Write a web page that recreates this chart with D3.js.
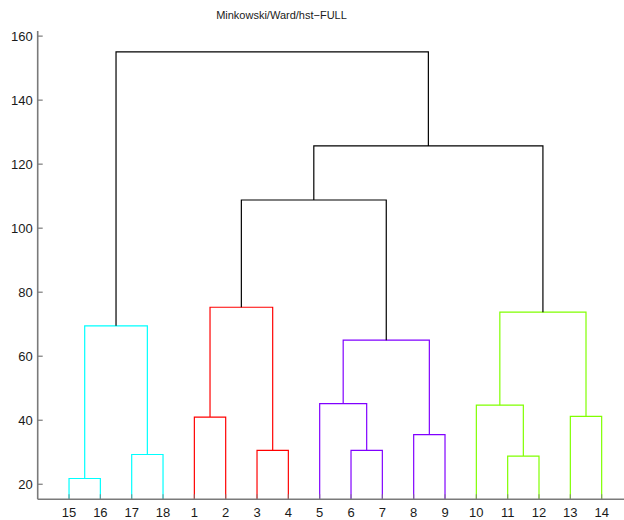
<!DOCTYPE html>
<html>
<head>
<meta charset="utf-8">
<script src="https://cdn.jsdelivr.net/npm/d3@7/dist/d3.min.js"></script>
<style>
  html, body { margin: 0; padding: 0; background: #fff; }
  svg { display: block; }
  text { font-family: "Liberation Sans", Arial, Helvetica, sans-serif; fill: #1a1a1a; }
</style>
</head>
<body>
<svg id="chart" width="624" height="520"></svg>
<script>
// Leaf order along the x axis (observation numbers)
const leafOrder = [15, 16, 17, 18, 1, 2, 3, 4, 5, 6, 7, 8, 9, 10, 11, 12, 13, 14];

// Linkage: cluster 18+k joins linkA[k-1] and linkB[k-1] at linkHeight[k-1]
const linkA = [15, 11, 17, 3, 6, 8, 1, 13, 10, 5, 28, 19, 27, 25, 32, 33, 30];
const linkB = [16, 12, 18, 4, 7, 9, 2, 14, 20, 23, 24, 21, 26, 22, 29, 31, 34];
const linkHeight = [21.8, 28.8, 29.3, 30.6, 30.6, 35.5, 41.0, 41.2, 44.7, 45.2,
                    65.0, 69.5, 73.75, 75.3, 108.8, 125.7, 155.1];

// Colours for clusters below the colour threshold, left to right
const groupColors = ["#00ffff", "#ff0000", "#8000ff", "#80ff00"];
const aboveColor = "#000000";

const yTicks = [20, 40, 60, 80, 100, 120, 140, 160];
const yLimits = [15.3, 161.6];
const title = "Minkowski/Ward/hst\u2212FULL";

const svg = d3.select("#chart");
const nLeaves = leafOrder.length;

const x = d3.scaleLinear().domain([0, nLeaves + 1]).range([37.7, 633]);
const y = d3.scaleLinear().domain(yLimits).range([499.3, 31]);

// Node table: leaves then clusters
const nodes = {};
leafOrder.forEach((leaf, i) => {
  nodes[leaf] = { x: i + 1, h: yLimits[0], leaf: true };
});
linkA.forEach((a, k) => {
  const id = nLeaves + 1 + k;
  nodes[id] = { x: (nodes[a].x + nodes[linkB[k]].x) / 2, h: linkHeight[k], a, b: linkB[k], leaf: false };
});

const threshold = 0.7 * d3.max(linkHeight);

// Find group roots (highest clusters below threshold) and assign colours left to right
const groupRoots = [];
linkA.forEach((a, k) => {
  const id = nLeaves + 1 + k;
  if (linkHeight[k] < threshold) {
    // parent above threshold?
    const parentIdx = linkA.findIndex((pa, j) => pa === id || linkB[j] === id);
    if (parentIdx < 0 || linkHeight[parentIdx] >= threshold) groupRoots.push(id);
  }
});
groupRoots.sort((p, q) => nodes[p].x - nodes[q].x);
function paint(id, color) {
  const n = nodes[id];
  if (n.leaf) return;
  n.color = color;
  paint(n.a, color);
  paint(n.b, color);
}
groupRoots.forEach((id, i) => paint(id, groupColors[i % groupColors.length]));

// Clip region for the plotting area
svg.append("defs").append("clipPath").attr("id", "plotClip")
  .append("rect").attr("x", x(0)).attr("y", y(yLimits[1]))
  .attr("width", x(nLeaves + 1) - x(0)).attr("height", y(yLimits[0]) - y(yLimits[1]));

const links = svg.append("g").attr("clip-path", "url(#plotClip)");
linkA.forEach((a, k) => {
  const id = nLeaves + 1 + k;
  const n = nodes[id];
  const A = nodes[a], B = nodes[linkB[k]];
  const color = n.color || aboveColor;
  const p = d3.path();
  p.moveTo(x(A.x), y(A.h));
  p.lineTo(x(A.x), y(n.h));
  p.lineTo(x(B.x), y(n.h));
  p.lineTo(x(B.x), y(B.h));
  links.append("path").attr("d", p.toString())
    .attr("fill", "none").attr("stroke", color).attr("stroke-width", 1.2);
});

// Axes
const axisColor = "#7a7a7a";
const ax = svg.append("g");
ax.append("line").attr("x1", x(0)).attr("x2", x(0))
  .attr("y1", y(yLimits[0])).attr("y2", y(yLimits[1]))
  .attr("stroke", axisColor).attr("stroke-width", 1.6);
ax.append("line").attr("x1", x(0)).attr("x2", x(nLeaves + 1))
  .attr("y1", y(yLimits[0])).attr("y2", y(yLimits[0]))
  .attr("stroke", axisColor).attr("stroke-width", 1.6);

// Y ticks (pointing inward) and labels
yTicks.forEach(t => {
  ax.append("line").attr("x1", x(0)).attr("x2", x(0) + 5)
    .attr("y1", y(t)).attr("y2", y(t))
    .attr("stroke", axisColor).attr("stroke-width", 1.2);
  ax.append("text").attr("x", x(0) - 5).attr("y", y(t) + 4.5)
    .attr("text-anchor", "end").attr("font-size", 13).text(t);
});

// X ticks at leaves and labels
leafOrder.forEach((leaf, i) => {
  const px = x(i + 1);
  ax.append("line").attr("x1", px).attr("x2", px)
    .attr("y1", y(yLimits[0])).attr("y2", y(yLimits[0]) - 5)
    .attr("stroke", axisColor).attr("stroke-width", 1.2).attr("stroke-opacity", 0.7);
  ax.append("text").attr("x", px).attr("y", 516.5)
    .attr("text-anchor", "middle").attr("font-size", 13).text(leaf);
});

// Title
svg.append("text").attr("x", 281.5).attr("y", 19)
  .attr("text-anchor", "middle").attr("font-size", 11).text(title);
</script>
</body>
</html>
